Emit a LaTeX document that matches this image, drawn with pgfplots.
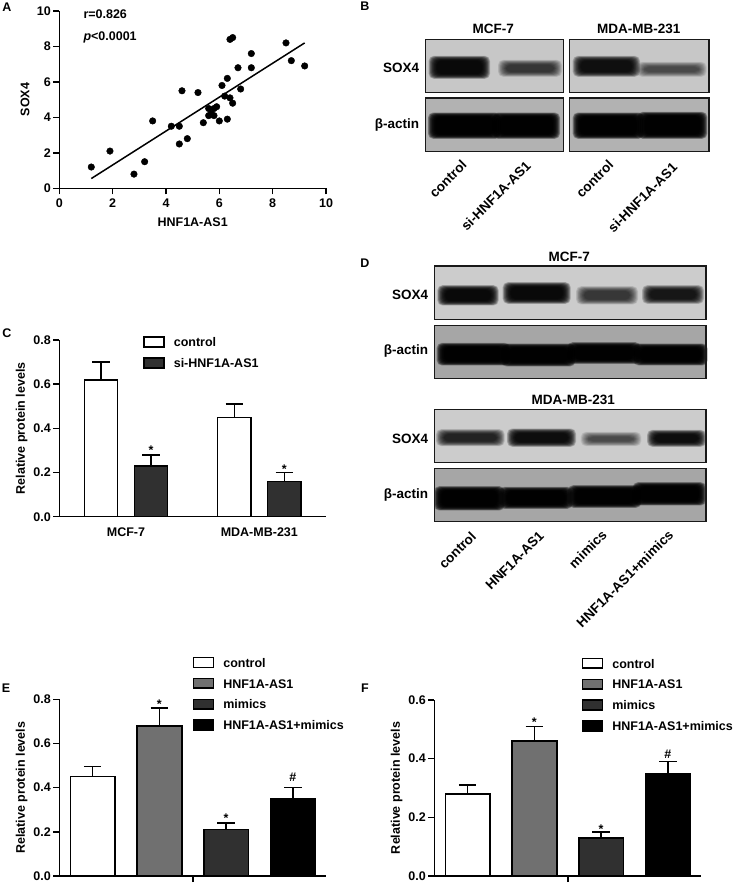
\documentclass[border=0pt]{standalone}
\usepackage{pgfplots}
\pgfplotsset{compat=1.18}
\usepackage{fontspec}
\setmainfont{Liberation Sans}
\newcommand\fs{\bfseries\fontsize{12.5}{13}\selectfont}
\newcommand\fb{\bfseries\fontsize{13.5}{14}\selectfont}
\definecolor{gA}{HTML}{707070}
\definecolor{gB}{HTML}{303030}
\newcommand\band[5][.2]{%
  \foreach \s in {-4,-2,0,2,4,6,8,10,12,14,16,18,20}{%
    \fill[black,opacity=#1,rounded corners=5pt] ({#2+\s},{#3+\s*.6}) rectangle ({#4-\s},{#5-\s*.6});
  }}
\newcommand\blot[5]{\fill[#5] (#1,#2) rectangle (#3,#4);}
\newcommand\blotframe[4]{\draw[line width=1.3pt,black!90] (#1,#2) rectangle (#3,#4);}
\pgfplotsset{
  panel/.style={scale only axis, clip=false, axis lines=left,
    axis line style={-,line width=1.5pt,black},
    tick style={line width=1.4pt,black}, major tick length=6pt,
    tick align=outside, xtick pos=lower, ytick pos=left,
    tick label style={font=\fs},
    /pgf/number format/assume math mode=true,
    xticklabel style={yshift=-1pt}, yticklabel style={xshift=1pt},
    every axis y label/.style={at={(rel axis cs:0,0.5)},anchor=center,rotate=90,yshift=37.6pt,font=\fs},
    legend cell align=left,
    legend style={draw=none,fill=none,inner sep=0pt,outer sep=0pt,font=\fs,anchor=north west,
      row sep=2.8pt, nodes={inner sep=0pt,text height=9.5pt,text depth=7.7pt},
      /tikz/column 1/.style={column sep=9pt}},
  },
  onedec/.style={/pgf/number format/fixed,/pgf/number format/fixed zerofill,/pgf/number format/precision=1,
     y tick label style={/pgf/number format/fixed,/pgf/number format/fixed zerofill,/pgf/number format/precision=1}},
  barp/.style n args={2}{ybar,bar shift=0pt,bar width=#1,draw=black,fill=#2,line width=1.5pt,
    error bars/.cd,y dir=plus,y explicit,
    error bar style={line width=1.5pt,black},
    error mark options={line width=1.5pt,black,mark size=8.7pt,rotate=90},
    /pgfplots/legend image code/.code={\draw[draw=black,fill=#2,line width=1.5pt] (0pt,-1pt) rectangle (20pt,8.7pt);}},
}
\begin{document}
\begin{tikzpicture}
\path[use as bounding box,fill=white] (0pt,0pt) rectangle (734pt,-883pt);
% panel letters
\begin{scope}[x=1pt,y=-1pt,every node/.style={font=\fs,inner sep=0pt}]
\node at (7,7) {A};
\node at (365,6) {B};
\node at (7,332.7) {C};
\node at (365,262.7) {D};
\node at (6,687.7) {E};
\node at (365,687.7) {F};
\end{scope}
% A
\begin{axis}[panel,at={(59.3pt,-188.3pt)},anchor=south west,width=266.7pt,height=177.3pt,
  xmin=0,xmax=10,ymin=0,ymax=10,xtick={0,2,...,10},ytick={0,2,...,10},
  xlabel={HNF1A-AS1},ylabel={SOX4},
  every axis x label/.style={at={(rel axis cs:0.5,0)},anchor=center,yshift=-33.4pt,font=\fs},
  every axis y label/.style={at={(rel axis cs:0,0.5)},anchor=center,rotate=90,yshift=34.3pt,font=\fs}]
\addplot[only marks,mark=*,mark size=3.3pt,black] coordinates {
(1.2,1.2)(1.9,2.1)(2.8,0.8)(3.2,1.5)(3.5,3.8)(4.2,3.5)(4.5,3.5)(4.5,2.5)(4.8,2.8)(4.6,5.5)
(5.2,5.4)(5.4,3.7)(5.6,4.1)(5.6,4.5)(5.8,4.1)(5.8,4.5)(5.9,4.6)(6.0,3.8)(5.7,4.2)(6.1,5.8)
(6.2,5.2)(6.3,6.2)(6.3,3.9)(6.4,5.1)(6.5,4.8)(6.4,8.4)(6.5,8.5)(6.7,6.8)(6.8,5.6)(7.2,7.6)
(7.2,6.8)(8.5,8.2)(8.7,7.2)(9.2,6.9)};
\addplot[line width=1.5pt,black] coordinates {(1.2,0.55)(9.2,8.2)};
\node[font=\fs,anchor=west,inner sep=0pt] at (axis cs:0.9,9.8) {r=0.826};
\node[font=\fs,anchor=west,inner sep=0pt] at (axis cs:0.9,8.5) {\textit{p}<0.0001};
\end{axis}
% C
\begin{axis}[panel,onedec,at={(59.3pt,-516.7pt)},anchor=south west,width=266.7pt,height=176.7pt,
  xmin=0,xmax=8,ymin=0,ymax=0.8,xtick={2,6},xticklabels={MCF-7,MDA-MB-231},ytick={0,0.2,0.4,0.6,0.8},
  x tick style={draw=none},xticklabel style={yshift=-0.5pt},
  ylabel={Relative protein levels},
  legend style={at={(0.315,1.02)}}]
\addplot[barp={33.3pt}{white}] coordinates {(1.25,0.62) +- (0,0.08) (5.25,0.45) +- (0,0.06)};
\addlegendentry{control}
\addplot[barp={33.3pt}{gB}] coordinates {(2.75,0.23) +- (0,0.05) (6.75,0.16) +- (0,0.04)};
\addlegendentry{si-HNF1A-AS1}
\node[font=\fs] at (axis cs:2.75,0.30) {*};
\node[font=\fs] at (axis cs:6.75,0.215) {*};
\end{axis}
% E
\begin{axis}[panel,onedec,at={(59.3pt,-876pt)},anchor=south west,width=267pt,height=176.7pt,
  xmin=0,xmax=6,ymin=0,ymax=0.8,xtick={3},xticklabels={},ytick={0,0.2,0.4,0.6,0.8},
  ylabel={Relative protein levels},
  legend style={at={(0.5,1.24)}}]
\addplot[barp={44.7pt}{white}] coordinates {(0.75,0.45) +- (0,0.045)};
\addlegendentry{control}
\addplot[barp={44.7pt}{gA}] coordinates {(2.25,0.68) +- (0,0.08)};
\addlegendentry{HNF1A-AS1}
\addplot[barp={44.7pt}{gB}] coordinates {(3.75,0.21) +- (0,0.03)};
\addlegendentry{mimics}
\addplot[barp={44.7pt}{black}] coordinates {(5.25,0.35) +- (0,0.05)};
\addlegendentry{HNF1A-AS1+mimics}
\node[font=\fs] at (axis cs:2.25,0.78) {*};
\node[font=\fs] at (axis cs:3.75,0.26) {*};
\node[font=\fs] at (axis cs:5.25,0.445) {\#};
\end{axis}
% F
\begin{axis}[panel,onedec,at={(434.3pt,-876pt)},anchor=south west,width=267pt,height=176pt,
  xmin=0,xmax=6,ymin=0,ymax=0.6,xtick={3},xticklabels={},ytick={0,0.2,0.4,0.6},
  ylabel={Relative protein levels},
  legend style={at={(0.5525,1.24)}}]
\addplot[barp={44.7pt}{white}] coordinates {(0.75,0.28) +- (0,0.03)};
\addlegendentry{control}
\addplot[barp={44.7pt}{gA}] coordinates {(2.25,0.46) +- (0,0.05)};
\addlegendentry{HNF1A-AS1}
\addplot[barp={44.7pt}{gB}] coordinates {(3.75,0.13) +- (0,0.02)};
\addlegendentry{mimics}
\addplot[barp={44.7pt}{black}] coordinates {(5.25,0.35) +- (0,0.04)};
\addlegendentry{HNF1A-AS1+mimics}
\node[font=\fs] at (axis cs:2.25,0.525) {*};
\node[font=\fs] at (axis cs:3.75,0.16) {*};
\node[font=\fs] at (axis cs:5.25,0.415) {\#};
\end{axis}
% B blots (zoomed coordinates)
\begin{scope}[shift={(350pt,0pt)},x=0.33333pt,y=-0.33333pt]
\blot{226}{118}{640}{278}{black!22}
\blot{226}{294}{640}{455}{black!30}
\blot{659}{118}{1077}{278}{black!22}
\blot{659}{294}{1077}{455}{black!30}
\band{240}{170}{416}{234}
\band[.09]{448}{182}{632}{228}
\band[.17]{672}{170}{866}{228}
\band[.07]{864}{188}{1066}{228}
\band[.28]{238}{340}{448}{414}
\band[.28]{432}{340}{626}{414}
\band[.28]{672}{340}{878}{414}
\band[.28]{866}{338}{1068}{414}
\blotframe{226}{118}{640}{278}
\blotframe{226}{294}{640}{455}
\blotframe{659}{118}{1077}{278}
\blotframe{659}{294}{1077}{455}
\begin{scope}[every node/.style={font=\fb,inner sep=0pt}]
\node at (430,88) {MCF-7};
\node at (866,88) {MDA-MB-231};
\node[anchor=east] at (208,205) {SOX4};
\node[anchor=east] at (208,375) {β-actin};
\node[anchor=north east,rotate=45] at (332,477) {control};
\node[anchor=north east,rotate=45] at (524,479) {si-HNF1A-AS1};
\node[anchor=north east,rotate=45] at (772,477) {control};
\node[anchor=north east,rotate=45] at (964,484) {si-HNF1A-AS1};
\end{scope}
\end{scope}
% D blots
\begin{scope}[shift={(350pt,-250pt)},x=0.33333pt,y=-0.33333pt]
\blot{253}{48}{1068}{208}{black!20}
\blot{253}{226}{1068}{385}{black!35}
\blot{253}{478}{1068}{637}{black!20}
\blot{253}{656}{1068}{814}{black!35}
\band{266}{108}{442}{164}
\band{462}{99}{658}{159}
\band[.09]{682}{111}{860}{161}
\band[.15]{880}{108}{1058}{159}
\band[.28]{264}{281}{476}{344}
\band[.28]{458}{283}{672}{347}
\band[.28]{656}{279}{868}{339}
\band[.28]{854}{283}{1069}{344}
\band[.12]{262}{540}{460}{586}
\band[.18]{475}{538}{674}{588}
\band[.07]{696}{548}{870}{586}
\band[.18]{895}{542}{1064}{588}
\band[.28]{256}{711}{460}{779}
\band[.28]{452}{713}{664}{774}
\band[.28]{658}{708}{870}{771}
\band[.28]{852}{699}{1064}{764}
\blotframe{253}{48}{1068}{208}
\blotframe{253}{226}{1068}{385}
\blotframe{253}{478}{1068}{637}
\blotframe{253}{656}{1068}{814}
\begin{scope}[every node/.style={font=\fb,inner sep=0pt}]
\node at (658,22) {MCF-7};
\node at (670,450) {MDA-MB-231};
\node[anchor=east] at (235,135) {SOX4};
\node[anchor=east] at (235,303) {β-actin};
\node[anchor=east] at (235,566) {SOX4};
\node[anchor=east] at (235,735) {β-actin};
\node[anchor=north east,rotate=45] at (360,841) {control};
\node[anchor=north east,rotate=45] at (564,841) {HNF1A-AS1};
\node[anchor=north east,rotate=45] at (752,837) {mimics};
\node[anchor=north east,rotate=45] at (952,837) {HNF1A-AS1+mimics};
\end{scope}
\end{scope}
\end{tikzpicture}
\end{document}
